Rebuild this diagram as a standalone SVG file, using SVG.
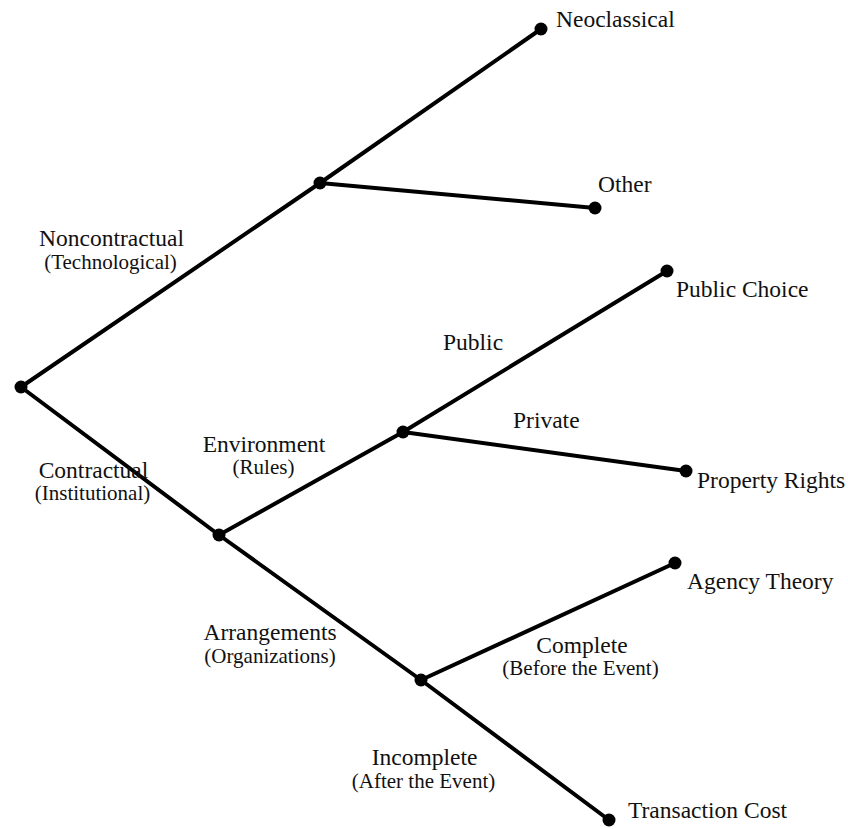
<svg xmlns="http://www.w3.org/2000/svg" width="848" height="829" viewBox="0 0 848 829">
<style>
.e{stroke:#000;stroke-width:4;stroke-linecap:round;fill:none}
.d{fill:#000}
text{font-family:"Liberation Serif","Times New Roman",serif;fill:#111}
.m{font-size:23.5px}
.s{font-size:21px}
.c{text-anchor:middle}
</style>
<rect width="848" height="829" fill="#fff"/>
<g id="connectors">
<line class="e" x1="21" y1="387" x2="320" y2="183"/>
<line class="e" x1="320" y1="183" x2="541" y2="29"/>
<line class="e" x1="320" y1="183" x2="595" y2="208"/>
<line class="e" x1="21" y1="387" x2="219" y2="535"/>
<line class="e" x1="219" y1="535" x2="403" y2="432"/>
<line class="e" x1="403" y1="432" x2="667" y2="271"/>
<line class="e" x1="403" y1="432" x2="686" y2="471"/>
<line class="e" x1="219" y1="535" x2="421" y2="680"/>
<line class="e" x1="421" y1="680" x2="675" y2="563"/>
<line class="e" x1="421" y1="680" x2="609" y2="820"/>
</g>
<g id="root"><circle class="d" cx="21" cy="387" r="6.5"/></g>
<g id="noncontractual"><circle class="d" cx="320" cy="183" r="6.5"/>
<text class="m c" x="111.5" y="246">Noncontractual</text>
<text class="s c" x="110.5" y="269">(Technological)</text></g>
<g id="neoclassical"><circle class="d" cx="541" cy="29" r="6.5"/>
<text class="m" x="556" y="27">Neoclassical</text></g>
<g id="other"><circle class="d" cx="595" cy="208" r="6.5"/>
<text class="m" x="598" y="192">Other</text></g>
<g id="contractual">
<text class="m c" x="93.5" y="478">Contractual</text>
<text class="s c" x="92.5" y="500">(Institutional)</text></g>
<g id="environment"><circle class="d" cx="219" cy="535" r="6.5"/>
<text class="m c" x="264" y="452">Environment</text>
<text class="s c" x="263.5" y="474">(Rules)</text></g>
<g id="public-private"><circle class="d" cx="403" cy="432" r="6.5"/>
<text class="m" x="443" y="350">Public</text>
<text class="m" x="513" y="428">Private</text></g>
<g id="public-choice"><circle class="d" cx="667" cy="271" r="6.5"/>
<text class="m" x="676" y="297">Public  Choice</text></g>
<g id="property-rights"><circle class="d" cx="686" cy="471" r="6.5"/>
<text class="m" x="697" y="488">Property Rights</text></g>
<g id="arrangements">
<text class="m c" x="270" y="640">Arrangements</text>
<text class="s c" x="270" y="663">(Organizations)</text></g>
<g id="complete-incomplete"><circle class="d" cx="421" cy="680" r="6.5"/>
<text class="m c" x="582" y="653">Complete</text>
<text class="s c" x="580.5" y="675">(Before  the Event)</text>
<text class="m c" x="424.5" y="765">Incomplete</text>
<text class="s c" x="423.5" y="788">(After the Event)</text></g>
<g id="agency-theory"><circle class="d" cx="675" cy="563" r="6.5"/>
<text class="m" x="687" y="589">Agency Theory</text></g>
<g id="transaction-cost"><circle class="d" cx="609" cy="820" r="6.5"/>
<text class="m" x="628" y="818">Transaction Cost</text></g>
</svg>
